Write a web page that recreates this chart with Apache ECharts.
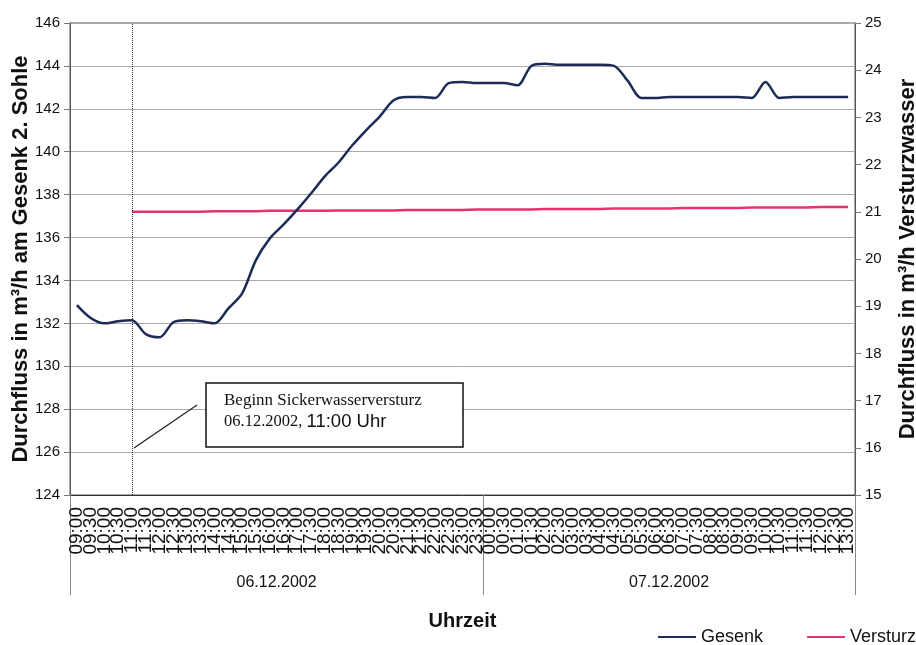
<!DOCTYPE html>
<html>
<head>
<meta charset="utf-8">
<script src="https://cdn.jsdelivr.net/npm/echarts@6/dist/echarts.min.js"></script>
<style>
html,body{margin:0;padding:0;background:#fff;}
#c{width:916px;height:645px;}
</style>
</head>
<body>
<div id="c"></div>
<script>
// Time categories (30-minute steps, 06.12.2002 09:00 – 07.12.2002 13:00)
const hours = [
 '09:00','09:30','10:00','10:30','11:00','11:30','12:00','12:30','13:00','13:30',
 '14:00','14:30','15:00','15:30','16:00','16:30','17:00','17:30','18:00','18:30',
 '19:00','19:30','20:00','20:30','21:00','21:30','22:00','22:30','23:00','23:30',
 '00:00','00:30','01:00','01:30','02:00','02:30','03:00','03:30','04:00','04:30',
 '05:00','05:30','06:00','06:30','07:00','07:30','08:00','08:30','09:00','09:30',
 '10:00','10:30','11:00','11:30','12:00','12:30','13:00'
];
const dates = ['06.12.2002','07.12.2002'];
const dateBounds = [0, 30, 57];      // category boundaries of the date groups
const dateCenters = [15, 43.5];

// Durchfluss Gesenk (m³/h, left axis)
const gesenk = [
 132.85,132.25,132.0,132.1,132.15,131.5,131.35,132.05,132.15,132.1,
 132.0,132.7,133.4,134.95,135.95,136.6,137.3,138.05,138.85,139.5,
 140.3,141.0,141.65,142.4,142.55,142.55,142.5,143.2,143.25,143.2,
 143.2,143.2,143.1,144.0,144.1,144.05,144.05,144.05,144.05,144.0,
 143.3,142.5,142.5,142.55,142.55,142.55,142.55,142.55,142.55,142.5,
 143.25,142.5,142.55,142.55,142.55,142.55,142.55
];
// Versturzwasser (m³/h, right axis), starts 11:00
const versturz = [
 '-','-','-','-',21.0,21.0,21.0,21.0,21.0,21.0,
 21.01,21.01,21.01,21.01,21.02,21.02,21.02,21.02,21.02,21.03,
 21.03,21.03,21.03,21.03,21.04,21.04,21.04,21.04,21.04,21.05,
 21.05,21.05,21.05,21.05,21.06,21.06,21.06,21.06,21.06,21.07,
 21.07,21.07,21.07,21.07,21.08,21.08,21.08,21.08,21.08,21.09,
 21.09,21.09,21.09,21.09,21.1,21.1,21.1
];
const leftTicks = {min:124, max:146, interval:2};
const rightTicks = {min:15, max:25, interval:1};
const startIndex = 4; // 06.12.2002 11:00

const FONT = "'Liberation Sans', Arial, sans-serif";
const SERIF = "'Liberation Serif', 'Times New Roman', serif";
const legendBase = {
  top:623, itemWidth:38, itemHeight:2, itemGap:8, width:200,
  textStyle:{fontSize:18, color:'#111', fontFamily:FONT}
};
const chart = echarts.init(document.getElementById('c'));
chart.setOption({
  animation:false,
  backgroundColor:'#fff',
  textStyle:{fontFamily:FONT},
  grid:{left:70, right:61, top:23, bottom:150, show:true, borderColor:'#555', borderWidth:1,
        containLabel:false, outerBoundsMode:'none'},
  legend:[
    Object.assign({}, legendBase, {left:653, data:[{name:'Gesenk', icon:'rect'}]}),
    Object.assign({}, legendBase, {left:802, data:[{name:'Versturz', icon:'rect'}]})
  ],
  xAxis:[
    {
      type:'category', data:hours, boundaryGap:true,
      name:'Uhrzeit', nameLocation:'middle', nameGap:116, nameMoveOverlap:false,
      nameTextStyle:{fontSize:20, fontWeight:'bold', color:'#111'},
      axisLine:{lineStyle:{color:'#333', width:1}},
      axisTick:{show:false},
      axisLabel:{interval:0, rotate:90, fontSize:19, color:'#111', margin:12},
      splitLine:{show:false}
    },
    {
      type:'value', min:0, max:57, position:'bottom',
      axisLine:{show:false},
      splitLine:{show:false},
      axisTick:{show:true, customValues:dateBounds, length:100, lineStyle:{color:'#888', width:1}},
      axisLabel:{customValues:dateCenters, margin:80, fontSize:16, color:'#111',
        formatter:function(v){return v < dateBounds[1] ? dates[0] : dates[1];}}
    }
  ],
  yAxis:[
    {
      type:'value', min:leftTicks.min, max:leftTicks.max, interval:leftTicks.interval,
      name:'Durchfluss in m³/h am Gesenk 2. Sohle', nameLocation:'middle', nameGap:38, nameRotate:90,
      nameMoveOverlap:false,
      nameTextStyle:{fontSize:22, fontWeight:'bold', color:'#111'},
      axisLine:{show:true, lineStyle:{color:'#555'}},
      axisTick:{show:true, length:6, lineStyle:{color:'#777'}},
      axisLabel:{fontSize:15, color:'#111', margin:10},
      splitLine:{show:true, lineStyle:{color:'#aaa', width:1}}
    },
    {
      type:'value', min:rightTicks.min, max:rightTicks.max, interval:rightTicks.interval,
      position:'right',
      name:'Durchfluss in m³/h Versturzwasser', nameLocation:'middle', nameGap:42, nameRotate:90,
      nameMoveOverlap:false,
      nameTextStyle:{fontSize:22, fontWeight:'bold', color:'#111'},
      axisLine:{show:true, lineStyle:{color:'#555'}},
      axisTick:{show:true, length:6, lineStyle:{color:'#777'}},
      axisLabel:{fontSize:15, color:'#111', margin:10},
      splitLine:{show:false}
    }
  ],
  series:[
    {
      name:'Gesenk', type:'line', xAxisIndex:0, yAxisIndex:0, data:gesenk,
      smooth:0.3, showSymbol:false, symbol:'none',
      lineStyle:{color:'#1d2b57', width:2.5}, itemStyle:{color:'#1d2b57'},
      markLine:{
        silent:true, symbol:'none', label:{show:false},
        lineStyle:{color:'#333', type:'dotted', width:1},
        data:[{xAxis:startIndex}]
      },
      z:3
    },
    {
      name:'Versturz', type:'line', xAxisIndex:0, yAxisIndex:1, data:versturz,
      showSymbol:false, symbol:'none',
      lineStyle:{color:'#e6336e', width:2.5}, itemStyle:{color:'#e6336e'},
      z:2
    }
  ],
  graphic:[
    {type:'line', shape:{x1:134, y1:448, x2:197, y2:405}, style:{stroke:'#222', lineWidth:1.3}, z:10},
    {type:'rect', shape:{x:206, y:383, width:257, height:64}, style:{fill:'#fff', stroke:'#111', lineWidth:1.5}, z:10},
    {type:'text', left:224, top:392, z:11,
      style:{text:'Beginn Sickerwasserversturz', fontFamily:SERIF, fontSize:17, fill:'#111'}},
    {type:'text', left:224, top:412, z:11,
      style:{text:'{a|06.12.2002, }{b|11:00 Uhr}', fill:'#111',
        rich:{a:{fontFamily:SERIF, fontSize:16.5, fill:'#111'}, b:{fontFamily:FONT, fontSize:18.5, fill:'#111'}}}}
  ]
});
</script>
</body>
</html>
